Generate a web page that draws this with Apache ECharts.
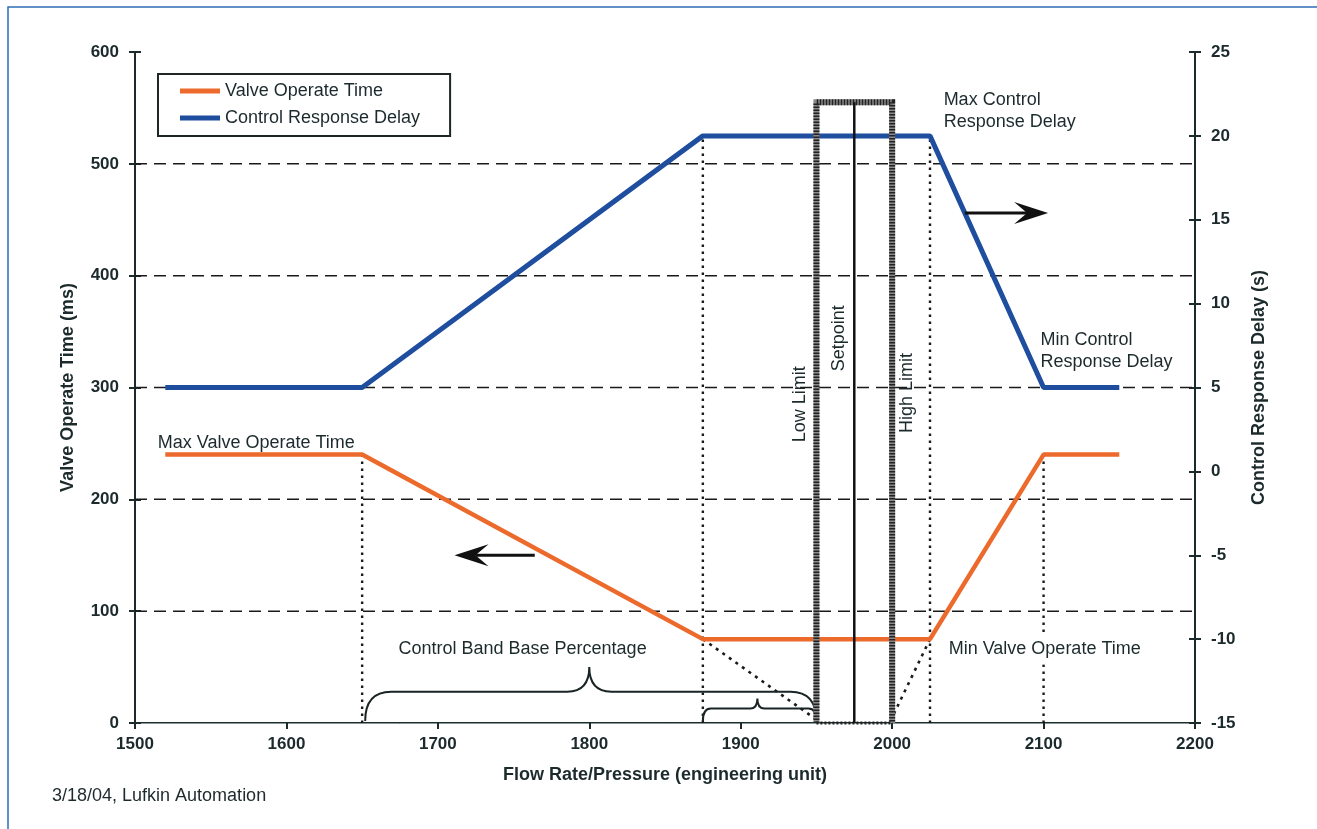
<!DOCTYPE html>
<html>
<head>
<meta charset="utf-8">
<script src="https://cdn.jsdelivr.net/npm/echarts@6/dist/echarts.min.js"></script>
<style>
  html, body { margin: 0; padding: 0; background: #fff; }
  #chart { width: 1317px; height: 829px; }
</style>
</head>
<body>
<div id="chart"></div>
<script>
  // breakpoints of the two curves (flow rate / pressure)
  var flow = [1520, 1650, 1875, 2025, 2100, 2150];
  var valveTime = [240, 240, 75, 75, 240, 240];      // ms, left axis
  var responseDelay = [5, 5, 20, 20, 5, 5];          // s, right axis
  var gridLevels = [100, 200, 300, 400, 500];
  // dotted drop lines: [flow, top on left axis]
  var dropLines = [[1650, 240], [1875, 525], [2025, 525], [2100, 240]];
  // dotted slope guides: [x1, y1, x2, y2]
  var slopeGuides = [[1875, 75, 1950, 3], [2025, 75, 2000, 5]];
  // control band: low limit, setpoint, high limit, top
  var band = [[1950, 1975, 2000, 555]];
  // braces: [from, to, apex x, level, apex level]
  var braces = [[1652, 1950, 1800, 28, 50], [1875, 1950, 1911, 13, 22]];
  // arrows: [tail x, tail y, tip x, tip y]
  var arrows = [[2048, 456, 2103, 456], [1764, 150, 1711, 150]];
  var notes = [
    { text: 'Max Valve Operate Time', x: 1515, y: 250, align: 'left' },
    { text: 'Min Valve Operate Time', x: 2036, y: 66, align: 'left', bg: true },
    { text: 'Control Band Base Percentage', x: 1674, y: 66, align: 'left' },
    { text: 'Max Control\nResponse Delay', x: 2034, y: 547, align: 'left' },
    { text: 'Min Control\nResponse Delay', x: 2098, y: 333, align: 'left' },
    { text: 'Low Limit', x: 1939, y: 285, rotate: true },
    { text: 'Setpoint', x: 1965, y: 344, rotate: true },
    { text: 'High Limit', x: 2010, y: 295, rotate: true }
  ];

  var font = 'Liberation Sans, Arial, sans-serif';
  var ink = '#1c2a2c';

  function seg(api, a, b, style) {
    var p = api.coord(a), q = api.coord(b);
    return { type: 'line', shape: { x1: p[0], y1: p[1], x2: q[0], y2: q[1] }, style: style };
  }

  var chart = echarts.init(document.getElementById('chart'));
  chart.setOption({
    backgroundColor: '#fff',
    animation: false,
    grid: { left: 135, right: 122, top: 52, bottom: 106 },
    legend: {
      orient: 'vertical', left: 158, top: 74,
      padding: [8, 30, 9, 22], itemGap: 9, itemWidth: 40, itemHeight: 5, itemTextGap: 2,
      icon: 'rect', borderColor: '#1e2626', borderWidth: 2, backgroundColor: '#fff',
      selectedMode: false,
      textStyle: { fontSize: 18, color: ink, fontFamily: font },
      data: ['Valve Operate Time', 'Control Response Delay']
    },
    xAxis: [{
      type: 'value', min: 1500, max: 2200, interval: 100,
      name: 'Flow Rate/Pressure (engineering unit)', nameLocation: 'middle', nameGap: 43,
      nameTextStyle: { fontSize: 18, fontWeight: 'bold', color: ink, fontFamily: font },
      axisLine: { onZero: false, lineStyle: { color: ink, width: 2 } },
      axisTick: { length: 6, lineStyle: { color: ink, width: 2 } },
      axisLabel: { fontSize: 17, fontWeight: 'bold', color: ink, fontFamily: font, margin: 13,
        formatter: function (v) { return String(v); } },
      splitLine: { show: false }
    }, {
      type: 'value', min: 1500, max: 2200, position: 'top',
      axisLine: { show: true, lineStyle: { color: '#8a9898', width: 1 } },
      axisTick: { show: false }, axisLabel: { show: false }, splitLine: { show: false }
    }],
    yAxis: [{
      type: 'value', min: 0, max: 600, interval: 100, position: 'left',
      name: 'Valve Operate Time (ms)', nameLocation: 'middle', nameGap: 58, nameRotate: 90,
      nameTextStyle: { fontSize: 18, fontWeight: 'bold', color: ink, fontFamily: font },
      axisLine: { show: true, lineStyle: { color: ink, width: 2 } },
      axisTick: { show: true, length: 6, lineStyle: { color: ink, width: 2 } },
      axisLabel: { fontSize: 17, fontWeight: 'bold', color: ink, fontFamily: font, margin: 16 },
      splitLine: { show: false }
    }, {
      type: 'value', min: -15, max: 25, interval: 5, position: 'right',
      name: 'Control Response Delay (s)', nameLocation: 'middle', nameGap: 55, nameRotate: 90,
      nameTextStyle: { fontSize: 18, fontWeight: 'bold', color: ink, fontFamily: font },
      axisLine: { show: true, lineStyle: { color: ink, width: 2 } },
      axisTick: { show: true, length: 6, lineStyle: { color: ink, width: 2 } },
      axisLabel: { fontSize: 17, fontWeight: 'bold', color: ink, fontFamily: font, margin: 16 },
      splitLine: { show: false }
    }, {
      type: 'value', min: 0, max: 600, interval: 100, position: 'left',
      axisLine: { show: false }, axisLabel: { show: false }, splitLine: { show: false },
      axisTick: { show: true, inside: true, length: 6, lineStyle: { color: ink, width: 2 } }
    }, {
      type: 'value', min: -15, max: 25, interval: 5, position: 'right',
      axisLine: { show: false }, axisLabel: { show: false }, splitLine: { show: false },
      axisTick: { show: true, inside: true, length: 6, lineStyle: { color: ink, width: 2 } }
    }],
    graphic: [
      { type: 'polyline', shape: { points: [[8, 829], [8, 7], [1317, 7]] },
        style: { stroke: '#2f6db5', lineWidth: 1.5, fill: null } },
      { type: 'text', left: 52, top: 787,
        style: { text: '3/18/04, Lufkin Automation', fontSize: 18, fill: ink, fontFamily: font } }
    ],
    series: [
      // dashed grid levels
      {
        type: 'custom', silent: true, z: 1,
        data: gridLevels.map(function (v) { return [1500, v]; }),
        renderItem: function (params, api) {
          return seg(api, [1500, api.value(1)], [2200, api.value(1)],
            { stroke: '#1a1a1a', lineWidth: 1.5, lineDash: [12, 7] });
        }
      },
      // dotted drop lines
      {
        type: 'custom', silent: true, z: 2,
        data: dropLines,
        renderItem: function (params, api) {
          return seg(api, [api.value(0), 0], [api.value(0), api.value(1)],
            { stroke: '#1a1a1a', lineWidth: 2.4, lineDash: [2.5, 4.5] });
        }
      },
      // dotted slope guides
      {
        type: 'custom', silent: true, z: 2,
        data: slopeGuides,
        renderItem: function (params, api) {
          return seg(api, [api.value(0), api.value(1)], [api.value(2), api.value(3)],
            { stroke: '#1a1a1a', lineWidth: 2.6, lineDash: [3, 5] });
        }
      },
      {
        name: 'Valve Operate Time', type: 'line', z: 3,
        data: flow.map(function (x, i) { return [x, valveTime[i]]; }),
        symbol: 'none', color: '#ec6a2c',
        lineStyle: { width: 4.5, color: '#ec6a2c' }
      },
      {
        name: 'Control Response Delay', type: 'line', yAxisIndex: 1, z: 3,
        data: flow.map(function (x, i) { return [x, responseDelay[i]]; }),
        symbol: 'none', color: '#1f4e9f',
        lineStyle: { width: 5, color: '#1f4e9f' }
      },
      // control band box and setpoint
      {
        type: 'custom', silent: true, z: 5,
        data: band,
        renderItem: function (params, api) {
          var lo = api.value(0), sp = api.value(1), hi = api.value(2), top = api.value(3);
          var pts = [api.coord([lo, 0]), api.coord([lo, top]), api.coord([hi, top]), api.coord([hi, 0])];
          return {
            type: 'group',
            children: [
              { type: 'polyline', shape: { points: pts }, style: { stroke: '#8a8a8a', lineWidth: 6, fill: null } },
              { type: 'polyline', shape: { points: pts }, style: { stroke: '#222', lineWidth: 6, lineDash: [1.5, 1.5], fill: null } },
              seg(api, [lo, 0], [hi, 0], { stroke: '#222', lineWidth: 3, lineDash: [2, 2] }),
              seg(api, [sp, 0], [sp, top], { stroke: '#111', lineWidth: 2.5 })
            ]
          };
        }
      },
      // braces
      {
        type: 'custom', silent: true, z: 4,
        data: braces,
        renderItem: function (params, api) {
          var a = api.coord([api.value(0), 0]);
          var b = api.coord([api.value(1), 0]);
          var m = api.coord([api.value(2), api.value(3)]);
          var t = api.coord([api.value(2), api.value(4)]);
          var big = params.dataIndex === 0;
          var r = big ? 26 : 8, r2 = big ? 22 : 7;
          var y0 = a[1] - 2, ym = m[1], xa = m[0], ya = t[1];
          var d = 'M' + a[0] + ',' + y0 +
            ' Q' + a[0] + ',' + ym + ' ' + (a[0] + r) + ',' + ym +
            ' L' + (xa - r2) + ',' + ym +
            ' Q' + xa + ',' + ym + ' ' + xa + ',' + ya +
            ' Q' + xa + ',' + ym + ' ' + (xa + r2) + ',' + ym +
            ' L' + (b[0] - r) + ',' + ym +
            ' Q' + b[0] + ',' + ym + ' ' + b[0] + ',' + y0;
          return { type: 'path', shape: { pathData: d }, style: { stroke: '#1a2424', lineWidth: 2, fill: null } };
        }
      },
      // arrows
      {
        type: 'custom', silent: true, z: 4,
        data: arrows,
        renderItem: function (params, api) {
          var p = api.coord([api.value(0), api.value(1)]);
          var q = api.coord([api.value(2), api.value(3)]);
          var dir = q[0] > p[0] ? 1 : -1;
          var L = 34, w = 11, n = 13;
          return {
            type: 'group',
            children: [
              { type: 'line', shape: { x1: p[0], y1: p[1], x2: q[0] - dir * (L - n), y2: q[1] },
                style: { stroke: '#111', lineWidth: 3 } },
              { type: 'polygon', shape: { points: [
                  [q[0], q[1]], [q[0] - dir * L, q[1] - w],
                  [q[0] - dir * (L - n), q[1]], [q[0] - dir * L, q[1] + w]] },
                style: { fill: '#111' } }
            ]
          };
        }
      },
      // text annotations
      {
        type: 'custom', silent: true, z: 6,
        data: notes.map(function (n) { return [n.x, n.y]; }),
        renderItem: function (params, api) {
          var n = notes[params.dataIndex];
          var p = api.coord([api.value(0), api.value(1)]);
          return {
            type: 'text', x: p[0], y: p[1], rotation: n.rotate ? Math.PI / 2 : 0,
            style: {
              text: n.text, x: 0, y: 0, fill: ink, fontSize: 18, fontFamily: font, lineHeight: 22,
              align: n.rotate ? 'center' : n.align, verticalAlign: 'middle',
              backgroundColor: n.bg ? '#fff' : null, padding: n.bg ? [4, 2] : 0
            }
          };
        }
      }
    ]
  });
</script>
</body>
</html>
